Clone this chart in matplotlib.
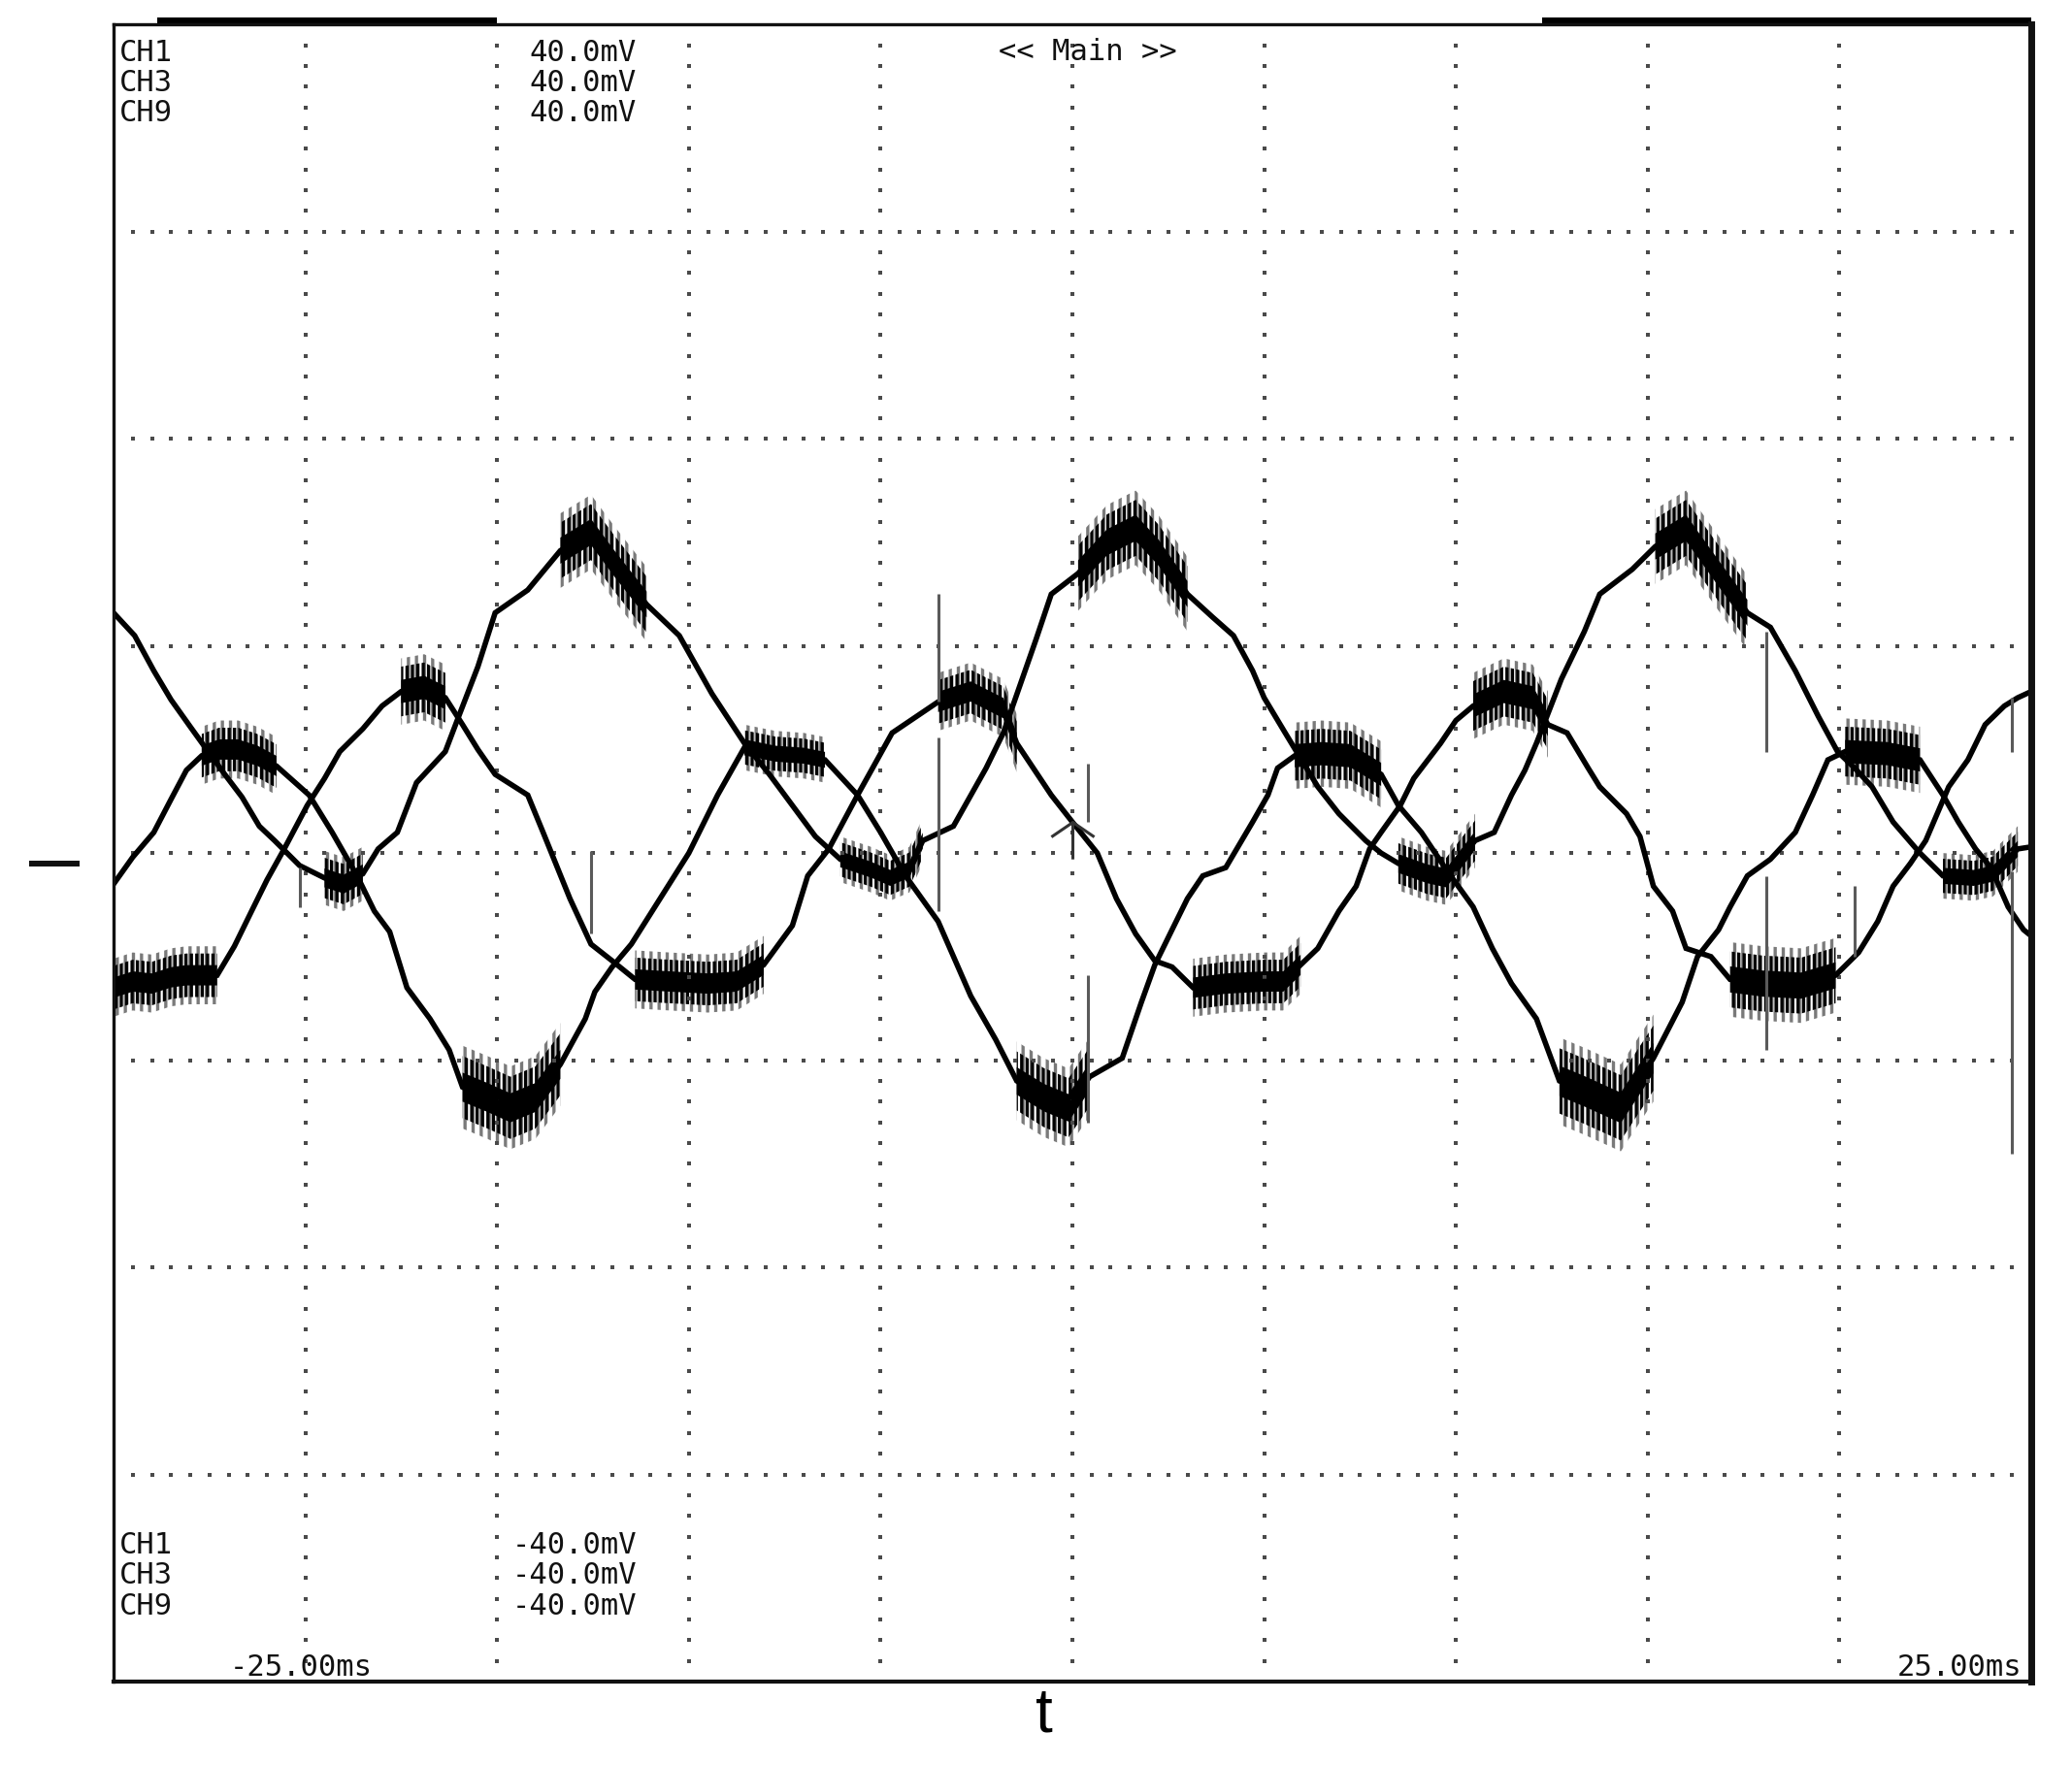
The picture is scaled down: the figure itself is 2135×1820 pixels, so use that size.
import numpy as np
import matplotlib.pyplot as plt
from matplotlib.path import Path
from matplotlib.transforms import blended_transform_factory

# time in ms (5 ms/div), level in mV (10 mV/div)
ta = [-25.0, -24.45, -23.95, -23.5, -23.0, -22.65, -22.1, -21.65, -21.2, -20.8, -20.15, -19.5, -19.0, -18.5,
      -18.1, -17.6, -17.1, -16.35, -16.0, -15.5, -15.05, -14.2, -13.35, -12.55, -11.95, -11.1, -10.25, -9.4,
      -8.55, -7.9, -7.3, -6.7, -6.05, -5.25, -4.75, -4.25, -3.9, -3.1, -2.25, -1.8, -0.95, -0.55, 0.15, 0.9,
      1.65, 2.25, 3.0, 3.65, 4.2, 4.7, 5.0, 5.55, 6.4, 6.95, 7.65, 8.05, 8.5, 9.25, 9.75, 10.5, 11.0, 11.45,
      11.8, 12.1, 12.75, 13.35, 13.75, 14.6, 15.2, 16.0, 16.85, 17.6, 18.2, 18.85, 19.45, 19.95, 20.4, 20.85,
      21.4, 22.1, 22.7, 23.5, 24.0, 24.65, 25.0]
va = [11.6, 10.5, 8.8, 7.4, 6.1, 5.2, 3.8, 2.7, 1.3, 0.6, -0.6, -1.2, -1.5, -1.0,
      0.2, 1.0, 3.4, 4.9, 6.6, 9.0, 11.6, 12.7, 14.6, 15.5, 14.0, 12.0, 10.5, 7.7,
      5.3, 3.8, 2.3, 0.8, -0.3, -0.8, -1.2, -0.8, 0.6, 1.3, 4.1, 5.8, 10.3, 12.5, 13.5, 15.0,
      15.7, 14.5, 12.5, 11.4, 10.5, 8.8, 7.5, 5.8, 3.2, 1.9, 0.6, 0.0, -0.5, -1.0, -1.2, 0.6, 1.0, 2.8,
      4.0, 5.3, 8.4, 10.7, 12.5, 13.7, 14.8, 15.7, 13.5, 11.6, 10.9, 8.8, 6.6, 4.9, 4.1, 3.2,
      1.5, 0.0, -1.1, -1.2, -1.0, 0.2, 0.3]

tb = [-25.0, -24.5, -24.0, -23.5, -23.1, -22.3, -21.85, -21.4, -21.0, -20.55, -19.95, -19.5, -19.1, -18.5,
      -18.0, -17.5, -16.9, -16.35, -15.9, -15.5, -15.05, -14.2, -13.8, -13.1, -12.55, -12.0, -11.4, -10.5,
      -9.5, -8.75, -8.05, -7.3, -6.9, -6.35, -5.6, -4.7, -3.5, -2.65, -1.8, -1.45, -0.55, 0.0, 0.65, 1.15,
      1.65, 2.15, 2.6, 3.15, 4.0, 5.0, 5.5, 5.95, 6.4, 6.95, 7.4, 7.75, 8.05, 8.55, 8.9, 9.6, 10.0, 10.45,
      11.25, 12.0, 12.4, 12.9, 13.45, 13.75, 14.45, 14.8, 15.15, 15.65, 16.0, 16.65, 17.15, 18.0, 19.0,
      19.9, 20.5, 21.0, 21.4, 21.85, 22.25, 22.85, 23.35, 23.8, 24.3, 24.65, 25.0]
vb = [-6.5, -6.2, -6.3, -6.0, -5.9, -5.9, -4.5, -2.8, -1.3, 0.2, 2.3, 3.6, 4.9, 6.0,
      7.1, 7.8, 8.0, 7.5, 6.2, 5.0, 3.8, 2.8, 1.0, -2.2, -4.4, -5.2, -6.1, -6.2,
      -6.3, -6.2, -5.4, -3.5, -1.1, 0.2, 2.8, 5.8, 7.3, 7.8, 7.0, 5.3, 2.8, 1.5, 0.0, -2.2,
      -3.9, -5.2, -5.5, -6.5, -6.3, -6.2, -6.2, -5.4, -4.6, -2.8, -1.6, 0.2, 1.0, 2.3, 3.6, 5.3, 6.4, 7.1,
      7.8, 7.5, 6.2, 5.8, 4.1, 3.2, 1.9, 0.8, -1.6, -2.8, -4.6, -5.0, -6.1, -6.3, -6.4,
      -5.9, -4.8, -3.3, -1.6, -0.5, 0.6, 3.2, 4.5, 6.2, 7.1, 7.5, 7.8]

tc = [-25.0, -24.5, -23.95, -23.5, -23.1, -22.7, -22.25, -21.75, -21.25, -20.75, -19.9, -19.3, -18.65, -18.2,
      -17.8, -17.35, -16.75, -16.25, -15.9, -15.25, -14.65, -14.0, -13.35, -12.7, -12.45, -12.0, -11.5, -10.75,
      -10.0, -9.25, -8.55, -7.75, -7.0, -6.45, -5.6, -5.0, -4.35, -3.5, -2.65, -2.0, -1.45, -0.75, -0.1, 0.45,
      1.3, 1.8, 2.15, 2.6, 3.0, 3.4, 4.0, 4.7, 5.1, 5.35, 5.8, 6.5, 7.25, 8.05, 8.5, 9.1, 9.75, 10.45,
      10.95, 11.45, 12.1, 12.7, 13.35, 14.3, 15.15, 15.9, 16.3, 16.85, 17.15, 17.6, 18.2, 18.85, 19.3, 19.7,
      20.15, 21.25, 22.1, 22.7, 23.1, 23.55, 23.95, 24.4, 24.8, 25.0]
vc = [-1.5, -0.2, 1.0, 2.6, 4.0, 4.7, 5.0, 5.0, 4.7, 4.2, 2.8, 1.0, -1.1, -2.8,
      -3.8, -6.5, -8.0, -9.5, -11.3, -11.8, -12.3, -11.8, -10.2, -8.0, -6.7, -5.5, -4.4, -2.2,
      0.0, 2.8, 5.1, 4.8, 4.7, 4.5, 2.8, 1.0, -1.1, -3.3, -6.9, -9.0, -11.0, -11.8, -12.3, -10.8,
      -9.9, -7.2, -5.4, -3.7, -2.2, -1.1, -0.7, 1.5, 2.8, 4.1, 4.7, 4.8, 4.7, 3.8, 2.3, 1.0, -0.8, -2.6,
      -4.6, -6.3, -8.0, -11.0, -11.5, -12.3, -9.9, -7.2, -5.0, -3.7, -2.6, -1.1, -0.3, 1.0, 2.8, 4.5,
      4.9, 4.8, 4.5, 2.8, 1.5, 0.2, -0.7, -2.6, -3.7, -4.0]

# ripple bands (start ms, end ms, half height mV) where the PWM noise is heavy
noise_a = [(-13.35, -11.1, 1.8), (0.15, 3.0, 1.8), (15.2, 17.6, 1.8),
           (-19.75, -18.25, 1.3), (-6.05, -3.9, 1.1), (8.5, 10.5, 1.3), (22.7, 24.65, 1.1)]
noise_b = [(-17.75, -16.25, 1.6), (-3.5, -1.45, 1.4), (10.45, 12.6, 1.6),
           (-25.0, -22.3, 1.4), (-11.4, -8.05, 1.4), (3.15, 5.95, 1.4), (17.15, 19.9, 1.8)]
noise_c = [(-22.7, -20.75, 1.4), (-8.55, -6.45, 1.1), (5.8, 8.05, 1.6), (20.15, 22.1, 1.6),
           (-15.9, -13.35, 2.0), (-1.45, 0.45, 1.9), (12.7, 15.15, 2.1)]

# isolated spikes: time, low, high
spike_t = [-12.55, -3.5, -3.5, 0.4, 0.4, 18.1, 18.1, 20.4, 24.5, 24.5, -20.15]
spike_lo = [-3.9, 7.3, -2.8, 1.5, -13.0, 4.9, -9.5, -5.0, 4.9, -14.5, -2.6]
spike_hi = [0.1, 12.5, 5.6, 4.3, -5.9, 10.7, -1.1, -1.6, 7.5, -0.9, -0.7]

trig_t, trig_v = 0.0, 1.5
zero_mv = -0.5

fig = plt.figure(figsize=(21.35, 18.2), dpi=100)
ax = fig.add_axes([0.0548, 0.0478, 0.9255, 0.9383])
ax.set_xlim(-25, 25)
ax.set_ylim(-40, 40)
ax.set_xticks([])
ax.set_yticks([])
for side, lw in [('left', 2.4), ('bottom', 3.0), ('right', 5.0), ('top', 2.4)]:
    ax.spines[side].set_linewidth(lw)
    ax.spines[side].set_color('#111111')

# dotted graticule
dot_v = np.arange(-39, 39.5, 1.0)
for x in np.arange(-20, 21, 5):
    ax.plot(np.full_like(dot_v, x), dot_v, ls='', marker='s', ms=3.2, color='#4a4a4a', mew=0)
dot_h = np.arange(-24.5, 24.6, 0.5)
for y in np.arange(-30, 31, 10):
    ax.plot(dot_h, np.full_like(dot_h, y), ls='', marker='s', ms=3.2, color='#4a4a4a', mew=0)

plt.rcParams['hatch.linewidth'] = 2.4
for t, v, bands in [(ta, va, noise_a), (tb, vb, noise_b), (tc, vc, noise_c)]:
    t = np.array(t)
    v = np.array(v)
    for t0, t1, h in bands:
        m = (t >= t0) & (t <= t1)
        ax.fill_between(t, v - h, v + h, where=m, facecolor='none', edgecolor='#7a7a7a',
                        hatch='||', lw=0)
        ax.fill_between(t, v - 0.75 * h, v + 0.75 * h, where=m, facecolor='none',
                        edgecolor='#000000', hatch='|||', lw=0)
        ax.fill_between(t, v - 0.35 * h, v + 0.35 * h, where=m, facecolor='#000000', lw=0)
    ax.plot(t, v, color='black', lw=4.0, solid_joinstyle='miter')

ax.vlines(spike_t, spike_lo, spike_hi, color='#5a5a5a', lw=2.2)

trig = Path([(-22, -15), (0, 0), (22, -15), (0, 0), (0, -38)],
            [Path.MOVETO, Path.LINETO, Path.LINETO, Path.MOVETO, Path.LINETO])
ax.plot([trig_t], [trig_v], marker=trig, ms=55, mew=2.2, mec='#333333', mfc='none', ls='')

# thick bars on the top frame
ax.plot([0.023, 0.2], [1.0025, 1.0025], transform=ax.transAxes, color='black', lw=4.3,
        clip_on=False, solid_capstyle='butt')
ax.plot([0.745, 1.0], [1.0025, 1.0025], transform=ax.transAxes, color='black', lw=4.3,
        clip_on=False, solid_capstyle='butt')

# zero level marker at the left
bt = blended_transform_factory(ax.transAxes, ax.transData)
ax.plot([-0.044, -0.0177], [zero_mv, zero_mv], transform=bt, color='#111111', lw=4.3,
        clip_on=False, solid_capstyle='butt')

mono = dict(family='DejaVu Sans Mono', fontsize=22, color='#111111', transform=ax.transAxes)
names = ['CH1', 'CH3', 'CH9']
top_y = [0.9780, 0.9599, 0.9417]
bot_y = [0.0773, 0.0592, 0.0404]
for n, y in zip(names, top_y):
    ax.text(0.0028, y, n, ha='left', va='baseline', **mono)
    ax.text(0.2728, y, '40.0mV', ha='right', va='baseline', **mono)
for n, y in zip(names, bot_y):
    ax.text(0.0028, y, n, ha='left', va='baseline', **mono)
    ax.text(0.2728, y, '-40.0mV', ha='right', va='baseline', **mono)
ax.text(0.508, 0.9786, '<< Main >>', ha='center', va='baseline', **mono)
ax.text(0.0607, 0.0035, '-25.00ms', ha='left', va='baseline', **mono)
ax.text(0.995, 0.0035, '25.00ms', ha='right', va='baseline', **mono)

fig.text(0.504, 0.029, 't', ha='center', va='center', family='Liberation Sans', fontsize=46)

fig.savefig('out.png', dpi=100, facecolor='white')
